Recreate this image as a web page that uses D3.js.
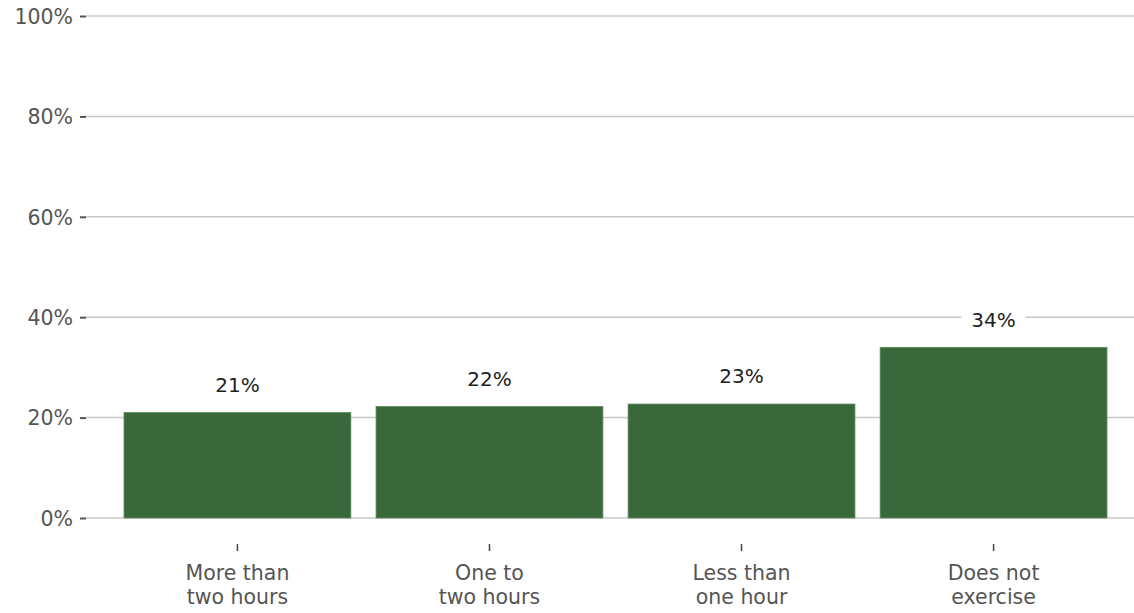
<!DOCTYPE html>
<html><head><meta charset="utf-8">
<script src="https://cdn.jsdelivr.net/npm/d3@7"></script>
<style>
body{margin:0;background:#fff;}
text{font-family:"DejaVu Sans","Open Sans",sans-serif;}
</style></head>
<body><svg id="c" width="1134" height="613"></svg>
<script>
const categories = [["More than","two hours"],["One to","two hours"],["Less than","one hour"],["Does not","exercise"]];
const values = [21.0, 22.2, 22.7, 34.0];
const valueLabels = ["21%","22%","23%","34%"];
const yTicks = [0,20,40,60,80,100];

const svg = d3.select("#c");
const keys = categories.map((d,i)=>"c"+i);
const x = d3.scaleBand().domain(keys).range([98.8,1132.2]).paddingInner(0.1).paddingOuter(0.1);
const y = d3.scaleLinear().domain([0,100]).range([518,16]);

// gridlines
svg.append("g").selectAll("line").data(yTicks).join("line")
  .attr("x1",86).attr("x2",1134)
  .attr("y1",d=>y(d)).attr("y2",d=>y(d))
  .attr("stroke","#c8c8c8").attr("stroke-width",1.5);

// y axis
const yAxis = svg.append("g").attr("transform","translate(86,0)")
  .call(d3.axisLeft(y).tickValues(yTicks).tickFormat(d=>d+"%").tickSize(6).tickPadding(7));
yAxis.select(".domain").remove();
yAxis.selectAll(".tick line").attr("stroke","#555").attr("stroke-width",2);
yAxis.selectAll(".tick text").attr("fill","#555").style("font-size","20.5px").attr("dy","0.36em");

// bars
svg.append("g").selectAll("rect").data(values).join("rect")
  .attr("x",(d,i)=>x(keys[i])).attr("width",x.bandwidth())
  .attr("y",d=>y(d)).attr("height",d=>y(0)-y(d))
  .attr("fill","#39693a").attr("stroke","#5f8a5f").attr("stroke-width",0.8);

// value labels with white background
const lg = svg.append("g").selectAll("g").data(values).join("g")
  .attr("transform",(d,i)=>`translate(${x(keys[i])+x.bandwidth()/2},${y(d)-28})`);
lg.append("rect").attr("x",-32).attr("y",-13).attr("width",64).attr("height",26).attr("fill","#fff");
lg.append("text").attr("text-anchor","middle").attr("dy","0.36em")
  .attr("fill","#222").style("font-size","20px").text((d,i)=>valueLabels[i]);

// x axis
const xAxis = svg.append("g").attr("transform","translate(0,544)")
  .call(d3.axisBottom(x).tickSize(7).tickFormat(""));
xAxis.select(".domain").remove();
xAxis.selectAll(".tick line").attr("stroke","#444").attr("stroke-width",1.5);
xAxis.selectAll(".tick").each(function(d,i){
  const t = d3.select(this).append("text").attr("text-anchor","middle").attr("fill","#555").style("font-size","20.5px");
  categories[i].forEach((ln,j)=>t.append("tspan").attr("x",0).attr("y",36+j*24).text(ln));
});
</script></body></html>
